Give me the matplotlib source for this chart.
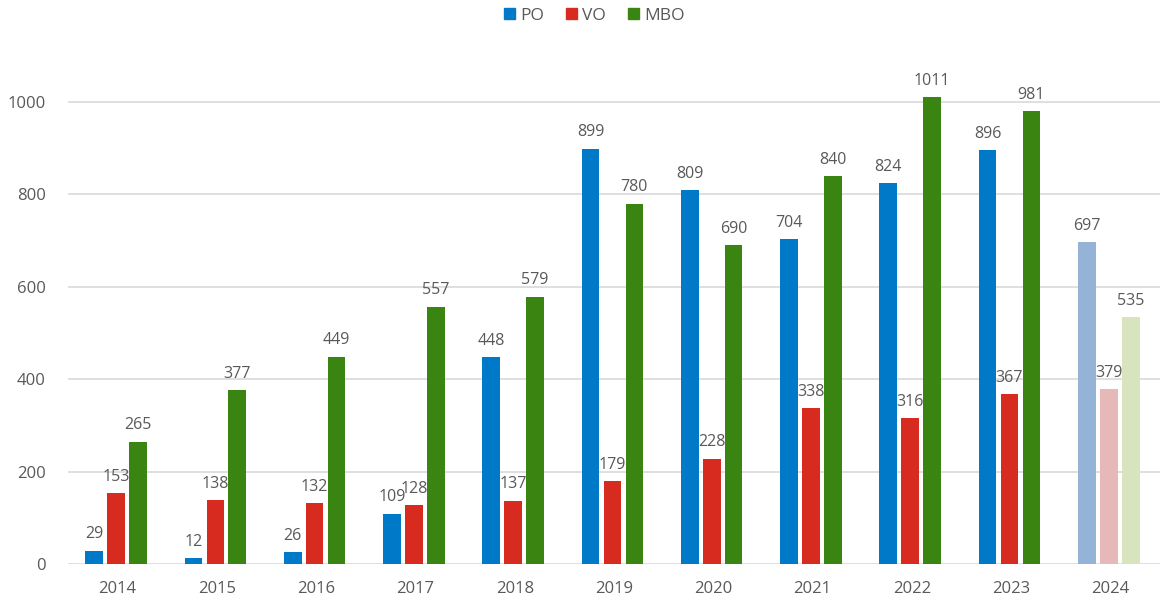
import matplotlib
matplotlib.use("Agg")
import matplotlib.pyplot as plt
import numpy as np

years = ["2014", "2015", "2016", "2017", "2018", "2019", "2020", "2021", "2022", "2023", "2024"]
po = [29, 12, 26, 109, 448, 899, 809, 704, 824, 896, 697]
vo = [153, 138, 132, 128, 137, 179, 228, 338, 316, 367, 379]
mbo = [265, 377, 449, 557, 579, 780, 690, 840, 1011, 981, 535]
series_names = ["PO", "VO", "MBO"]

colors = ["#0079C9", "#D72B1F", "#3A8511"]
faded = ["#95B3D7", "#E6B9B8", "#D7E4BD"]

plt.rcParams['font.family'] = ['Open Sans', 'DejaVu Sans']
fig = plt.figure(figsize=(11.61, 5.97), dpi=100)
ax = fig.add_axes([0.0586, 0.0553, 0.9405, 0.851])

x = np.arange(len(years))
offsets = [-0.237, -0.016, 0.205]
width = 0.178
data = [po, vo, mbo]
for s, (vals, off) in enumerate(zip(data, offsets)):
    cols = [colors[s]] * (len(years) - 1) + [faded[s]]
    ax.bar(x + off, vals, width, color=cols, label=series_names[s], zorder=3)
    for xi, v in zip(x + off, vals):
        ax.text(xi, v + 18, str(v), ha='center', va='bottom', fontsize=11.5, color='#595959', zorder=4)

ax.set_xlim(-0.5, len(years) - 0.5)
ax.set_ylim(0, 1100)
ax.set_yticks([0, 200, 400, 600, 800, 1000])
ax.set_xticks(x)
ax.set_xticklabels(years)
ax.tick_params(axis='both', length=0, labelsize=12, colors='#595959')
ax.tick_params(axis='y', pad=16)
ax.tick_params(axis='x', pad=12)
ax.yaxis.grid(True, color='#D9D9D9', linewidth=1.2, zorder=0)
for sp in ['top', 'right', 'left', 'bottom']:
    ax.spines[sp].set_visible(False)

handles = [plt.Rectangle((0, 0), 1, 1, color=c) for c in colors]
fig.legend(handles, series_names, loc='upper center', bbox_to_anchor=(0.512, 1.013), ncol=3,
           frameon=False, fontsize=12.5, handlelength=0.6, handleheight=0.6, handletextpad=0.3,
           columnspacing=1.3, labelcolor='#595959')

fig.savefig("out.png", dpi=100)
